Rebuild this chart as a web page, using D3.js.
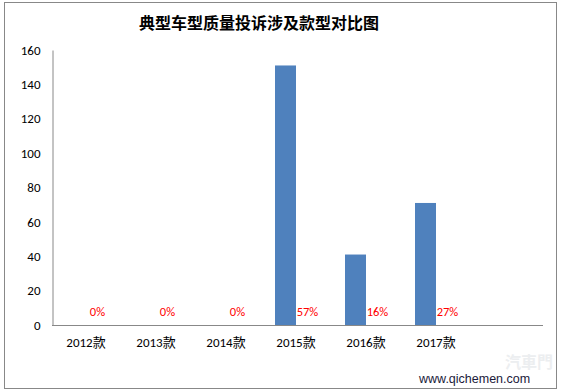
<!DOCTYPE html>
<html>
<head>
<meta charset="utf-8">
<script src="https://cdn.jsdelivr.net/npm/d3@7"></script>
<style>
  body { margin: 0; background: #fff; }
  text { font-family: Calibri, "Liberation Sans", "Noto Sans CJK SC", sans-serif; }
</style>
</head>
<body>
<div id="chart"></div>
<script>
// chart data
const categories = ["2012款", "2013款", "2014款", "2015款", "2016款", "2017款"];
const counts = [0, 0, 0, 151, 41, 71];
const shares = ["0%", "0%", "0%", "57%", "16%", "27%"];
const yTicks = [0, 20, 40, 60, 80, 100, 120, 140, 160];

const width = 562, height = 392;

const svg = d3.select("#chart")
    .append("svg")
    .attr("width", width)
    .attr("height", height);

// outer frame
svg.append("rect")
    .attr("x", 4.5).attr("y", 2.5)
    .attr("width", 552).attr("height", 386)
    .attr("fill", "#fff")
    .attr("stroke", "#888")
    .attr("stroke-width", 1);

// watermark logo (faint)
svg.append("text")
    .attr("x", 553).attr("y", 368)
    .attr("text-anchor", "end")
    .style("font-family", "'Noto Sans CJK SC', sans-serif")
    .style("font-size", "16px")
    .style("font-weight", "bold")
    .attr("fill", "#eceef0")
    .text("汽車門");

// title
svg.append("text")
    .attr("x", 259).attr("y", 29)
    .attr("text-anchor", "middle")
    .style("font-family", "'Noto Sans CJK SC', sans-serif")
    .style("font-size", "16px")
    .style("font-weight", "bold")
    .attr("fill", "#000")
    .text("典型车型质量投诉涉及款型对比图");

// scales
const x = d3.scaleBand().domain(categories).range([51, 471]).paddingInner(0).paddingOuter(0);
const y = d3.scaleLinear().domain([0, 160]).range([325, 50]);
const barW = 21;

// y axis
const yAxis = svg.append("g")
    .attr("transform", "translate(52.5,0)")
    .call(d3.axisLeft(y).tickValues(yTicks).tickSize(0).tickPadding(12));
yAxis.select(".domain").attr("stroke", "#888");
yAxis.selectAll("text")
    .style("font-size", "13px")
    .attr("fill", "#000");

// x axis baseline
svg.append("line")
    .attr("x1", 52).attr("x2", 543)
    .attr("y1", y(0) + 0.5).attr("y2", y(0) + 0.5)
    .attr("stroke", "#888");

// category labels
svg.append("g")
    .selectAll("text")
    .data(categories)
    .join("text")
    .attr("x", d => x(d) + x.bandwidth() / 2)
    .attr("y", 347)
    .attr("text-anchor", "middle")
    .style("font-size", "13px")
    .attr("fill", "#000")
    .text(d => d);

// bars
svg.append("g")
    .selectAll("rect")
    .data(counts)
    .join("rect")
    .attr("x", (d, i) => x(categories[i]) + x.bandwidth() / 2 - barW)
    .attr("y", d => y(d))
    .attr("width", barW)
    .attr("height", d => y(0) - y(d))
    .attr("fill", "#4f81bd");

// share labels
svg.append("g")
    .selectAll("text")
    .data(shares)
    .join("text")
    .attr("x", (d, i) => x(categories[i]) + x.bandwidth() / 2 + barW / 2 + 1)
    .attr("y", 316)
    .attr("text-anchor", "middle")
    .style("font-size", "12.5px")
    .attr("fill", "#ff0000")
    .text(d => d);

// site watermark
svg.append("text")
    .attr("x", 419).attr("y", 383)
    .style("font-family", "'Liberation Sans', Arial, sans-serif")
    .style("font-size", "12.5px")
    .attr("fill", "#1a1a3a")
    .text("www.qichemen.com");
</script>
</body>
</html>
